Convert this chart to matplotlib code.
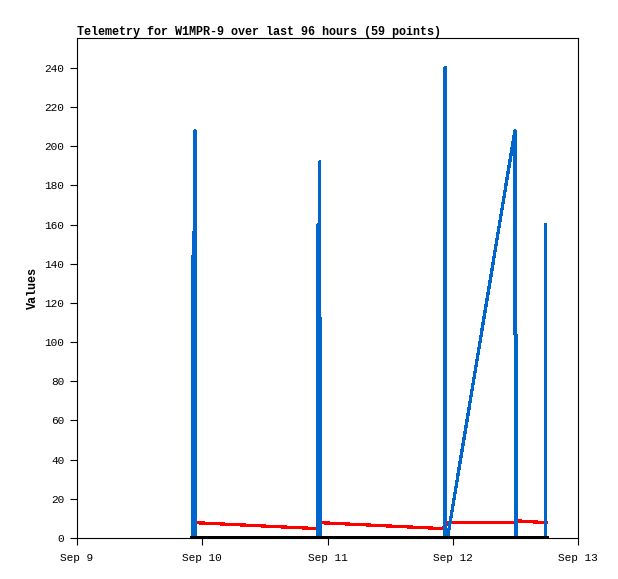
import datetime as dt
import matplotlib
matplotlib.use('Agg')
import matplotlib.pyplot as plt
import matplotlib.dates as mdates

plt.rcParams['path.simplify'] = False

# hours after Sep 9 00:00
blue_hours = [22.13, 22.13, 22.13, 22.32, 22.32, 22.32, 22.61, 22.61, 22.61,
              46.18, 46.18, 46.18, 46.5, 46.5, 46.5, 46.72, 46.72, 46.72,
              70.51, 70.51, 70.51, 70.68, 70.68, 70.68, 71.0,
              83.92, 83.92, 84.1, 84.1,
              89.8, 89.8, 89.8]
blue = [0, 144, 0, 0, 156, 0, 0, 208, 0,
        0, 160, 0, 0, 192, 0, 0, 112, 0,
        0, 240, 0, 0, 240, 0, 0,
        208, 104, 104, 0,
        0, 160, 0]

red_hours = [22.6, 22.8, 46.0, 46.8, 70.1, 71.0, 83.92, 84.2, 89.95]
red = [8.0, 7.8, 4.8, 7.8, 4.8, 7.8, 7.8, 8.8, 7.8]

black_hours = [22.13, 89.95]
black = [0, 0]

start = dt.datetime(2023, 9, 9)
to_time = lambda hs: [start + dt.timedelta(hours=h) for h in hs]

fig = plt.figure(figsize=(6.18, 5.79), dpi=100)
ax = fig.add_axes([77 / 618, 1 - 538 / 579, 501 / 618, 500 / 579])

ax.plot(to_time(red_hours), red, color='#ff0000', lw=1.6, antialiased=False, zorder=2)
ax.plot(to_time(blue_hours), blue, color='#0066cc', lw=1.6, antialiased=False, zorder=3)
ax.plot(to_time(black_hours), black, color='black', lw=2.2, antialiased=False, zorder=4)

ax.set_xlim(start, start + dt.timedelta(days=4))
ax.set_ylim(0, 255.3)
ax.set_yticks(range(0, 241, 20))
ax.xaxis.set_major_locator(mdates.DayLocator())
ax.xaxis.set_major_formatter(mdates.DateFormatter('%b %-d'))

mono = 'Liberation Mono'
for lab in ax.get_xticklabels() + ax.get_yticklabels():
    lab.set_fontfamily(mono)
    lab.set_fontsize(8)
ax.tick_params(direction='out', length=5, width=0.8, pad=6)
ax.tick_params(axis='y', pad=4)
for s in ax.spines.values():
    s.set_linewidth(0.8)

ax.set_title('Telemetry for W1MPR-9 over last 96 hours (59 points)', loc='left',
             fontfamily=mono, fontweight='bold', fontsize=8.5, pad=2)
ax.set_ylabel('Values', fontfamily=mono, fontweight='bold', fontsize=8.5, labelpad=4)

fig.savefig('out.png', dpi=100)
